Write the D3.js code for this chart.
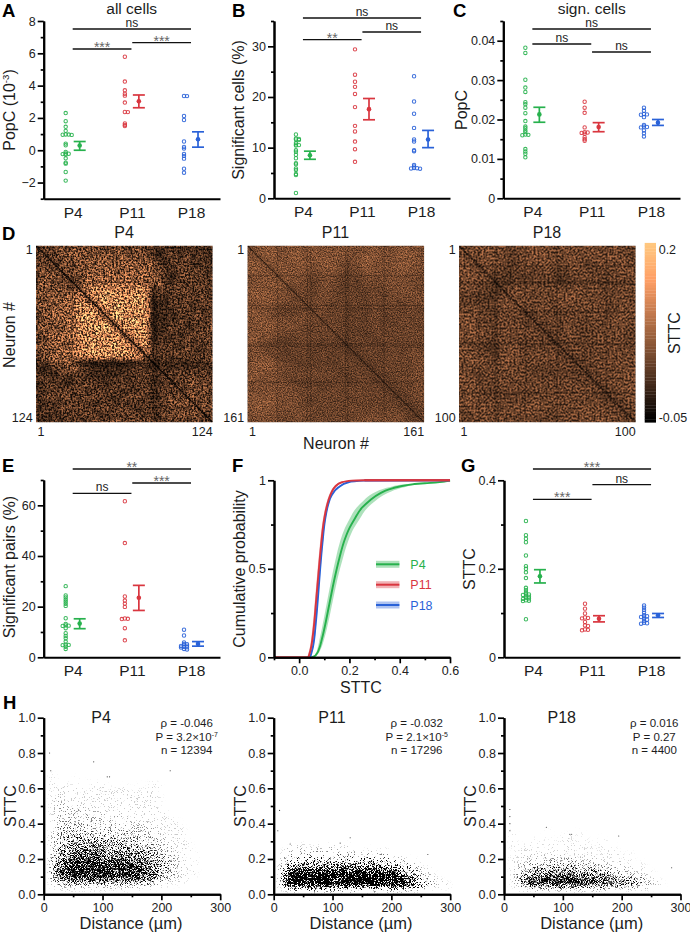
<!DOCTYPE html>
<html><head><meta charset="utf-8">
<script src="https://cdn.jsdelivr.net/npm/d3@7/dist/d3.min.js"></script>
<style>
html,body{margin:0;padding:0;background:#fff}
svg{display:block}
text{font-family:"Liberation Sans",Arial,sans-serif;fill:#1c1c1c}
</style></head><body><svg id="c" width="690" height="933" viewBox="0 0 690 933"></svg>
<script>
// ---------- data ----------
const categories = ["P4","P11","P18"];
const colors = ["#27b14d","#d9363f","#2a62d8"];

const popcP4  = [2.3,1.8,1.45,1.2,0.98,0.97,0.96,0.95,0.41,0.31,-0.1,-0.2,-0.22,-0.24,-0.26,-0.5,-0.77,-0.83,-1.35,-1.88];
const popcP11 = [5.79,4.25,3.71,3.5,3.38,2.95,2.37,2.36,1.66,1.56,1.5];
const popcP18 = [3.36,3.35,2.12,1.87,0.54,0.2,0.1,-0.23,-0.35,-0.52,-1.14,-1.39];
const popcSummary = [[0.29,0.54,0.0],[3.03,3.42,2.63],[0.68,1.14,0.19]];

const sigCellsP4  = [12.6,11.8,11.7,11.6,11.5,10.9,10.6,10.5,10.4,9.5,9.2,8.6,7.9,6.9,6.7,5.9,5.6,4.8,4.6,1.05];
const sigCellsP11 = [29.4,24.4,23,22,20.6,18,14.3,13.2,11.2,9.7,7.2];
const sigCellsP18 = [24.1,19.1,16.7,13.9,11.6,11.2,9.5,9.3,6.6,6.3,6.0,5.95,5.9,5.85];
const sigCellsSummary = [[8.5,9.3,7.7],[17.6,19.7,15.5],[11.6,13.4,10]];

const signPopcP4  = [.0382,.0369,.0301,.0281,.027,.0244,.0239,.023,.0216,.0196,.0182,.0178,.0172,.0168,.0162,.0161,.016,.0125,.0119,.0113,.0104];
const signPopcP11 = [.0245,.023,.0217,.018,.0168,.0167,.0166,.0164,.0155,.015,.0146];
const signPopcP18 = [.023,.0222,.0214,.0213,.0212,.0206,.0186,.0182,.0181,.018,.0172,.0165,.0157];
const signPopcSummary = [[.0213,.0231,.0193],[.0181,.0192,.0169],[.0192,.02,.0185]];

const sigPairsP4  = [28.1,24.4,23.6,22.7,21.9,21.1,20.3,15.4,13.2,12.6,12.5,12.4,11.5,9.5,8.4,7.5,6.2,5,4.9,4.8,4.2,3.3];
const sigPairsP11 = [61.6,45.1,24,22.4,21.2,19.9,15.3,15.2,15.1,11.5,6.7];
const sigPairsP18 = [10.9,8.6,5.9,5.3,5.2,4.7,4.6,4.5,4.1,4,3.9,3.3,3.1];
const sigPairsSummary = [[13.3,15.2,11.3],[23.5,28.4,18.5],[5.3,6.2,4.4]];

const sttcP4  = [.308,.276,.268,.26,.23,.206,.2,.192,.179,.157,.152,.147,.143,.142,.141,.138,.137,.134,.133,.132,.129,.128,.127,.086];
const sttcP11 = [.121,.11,.099,.09,.089,.088,.08,.072,.071,.063,.062,.061];
const sttcP18 = [.117,.112,.107,.101,.095,.093,.092,.091,.087,.085,.082,.078,.077,.076];
const sttcSummary = [[.183,.198,.168],[.087,.094,.08],[.095,.099,.09]];

// cumulative curves
const cdfP4X  = [.05,.06,.07,.08,.09,.10,.12,.14,.16,.18,.20,.22,.25,.28,.32,.36,.40,.45,.50,.55,.60];
const cdfP4Y  = [0,.005,.02,.05,.10,.16,.30,.44,.56,.66,.73,.78,.845,.885,.925,.95,.965,.977,.983,.988,.998];
const cdfP4Band = [.001,.003,.005,.007,.009,.01,.011,.012,.014,.016,.018,.02,.022,.024,.028,.03,.03,.03,.03,.02,.005];
const cdfP11X = [.037,.045,.057,.067,.077,.087,.097,.107,.117,.13,.143,.17,.21,.26,.60];
const cdfP11Y = [0,.04,.154,.31,.475,.63,.757,.835,.889,.935,.964,.989,.998,1,1];
const cdfP18X = [.044,.055,.066,.075,.083,.093,.103,.115,.13,.156,.196,.26,.60];
const cdfP18Y = [0,.06,.19,.34,.49,.65,.776,.86,.917,.96,.989,.998,1];
const cdfTickMajor = [0,.2,.4,.6];
const cdfTickMinor = [-.1,.1,.3,.5];

// heatmaps: upper triangle, coarse blocks read by eye, digit = STTC level (0 -> -0.05, 10 -> 0.2)
const matrixP4 = ["3434535454543454354342332323232","343546453545454354431343242332","34354546455456454543234343332","3453545465545654654233433233","344545646545656544433343432","34356565656546564322443433","3456565656656456424334343",
"376878787678724343433433","37879878878723334343342","3789787898713234243343","388798788812233342334","37898878822323433423","3897887812232333433","387898713233423334","38878812243332434","3788722334234343","378713323343343","37823343243334","3724334343233","332433433434","22323223233","2323323332","343434343","34345344","3435443","344354","35343","3453","344","33","3"];
const matrixP11 = ["35544545445444544544","3544544544445444454","354454454345444544","35443443434444444","3443443334344443","343443433434444","34434343434344","3434333434343","343343433434","34333434343","3343343434","334334343","33434344","3343434","334344","33434","3344","334","33","3"];
const matrixP18 = ["34444334443443443433","3444334444344344443","344334344344334344","33233333233433343","3343434334343434","344343444343343","34343443434343","3343334343344","334343343443","33343334343","3343343433","334334343","33343434","3334343","334344","33434","3344","334","33","3"];
const neuronCounts = [124,161,100];
const selfSTTC = -0.05;
// neurons whose whole row and column read dark in the figure
const darkNeuronsP4  = [2,26,83,85,92,97];
const darkNeuronsP11 = [28,55,58,90,92,125];
const darkNeuronsP18 = [12,21,22,38,56,84];

// scatter density: rows from high STTC down, columns are 10 um bins, digit = relative density
const densityTopP4 = 0.70, densityTopP11 = 0.30, densityTopP18 = 0.38;
const densityP4 = ["000000000000000000000000000000","010000000000000000000000000000","010001000000000000000000000000","010100010100000000100000000000","011111101110010010110000000000","011111111111111101110000000000","011111111111111111100000000000","012111111111111111110000000000","012111111111111111110000000000","012211111111111111100000000000","012222211111111111110000000000","012222222111111111111000000000","012222222221211111111000000000","012222222222221111111100000000","013232222222222211111110000000","013333333222222222111110000000","013333333333322222211111000000","013333333333333322221111000000","023444444434333332221111000000","023444444444444333322111000000","023455555555444433322111100000","024556666655555544332211100000","024566676666665554332211100000","034667777766666655433221110000","034678888877777665543321110000","035788888888887776544321110000","036889999998888877654321110000","047899999999998887654321110000","047899999999999988754321110000","047899999999999988754321110000","036788888999888877653221100000","024566666666666655432111000000","012232222222222222211000000000","001111111111111100000000000000"];
const densityP11 = ["000000000000000000000000000000","001111010110100000000000000000","001111111111111010100000000000","011112121212111111110000000000","012222222222222222221100000000","012333333333333333322111000000","013444444444444444433221100000","024666666666666666655432110000","036888888888888888777543211000","038999999999999999988654211000","039999999999999999999865421100","039999999999999999999987532110","037888888888888888888876432111","001222222222222222222211100000"];
const densityP18 = ["000000000000000000000000000000","010000010000100000000000000000","010000000011010000000000000000","010001010111010010000000000000","010010111011101011000000000000","011111111111111011100000000000","001111111111111101100000000000","001111111111111111110100000000","011122222222111111111000000000","011222233333322211111100000000","012233344444333322221111000000","012344455555444433222111000000","013455666666555544332211100000","013466777777666655433322110000","014678899999887766554433110000","014899999999999988777665321000","013677777888877776665544321000","001122222222222222111111000000"];
const outliersP4  = [[85,.75],[10,.8],[215,.70],[108,.665],[112,.665],[12,.7]];
const outliersP11 = [[10,.475],[7,.36],[130,.32],[113,.29],[28,.285],[262,.225]];
const outliersP18 = [[10,.48],[10,.44],[72,.38],[112,.34],[115,.34],[195,.33],[10,.40],[10,.36],[285,.15]];

const statsLines = [
 [["ρ = -0.046"],["P = 3.2×10","-7"],["n = 12394"]],
 [["ρ = -0.032"],["P = 2.1×10","-5"],["n = 17296"]],
 [["ρ = 0.016"],["P = 0.27"],["n = 4400"]]
];

// ---------- helpers ----------
const svg = d3.select("#c");
const AXW = 2;
const copper = t => { t=Math.max(0,Math.min(1,t)); return d3.rgb(255*Math.min(1,1.25*t),255*0.7812*t,255*0.4975*t)+""; };
const sttcColor = d3.scaleSequential([-0.05,0.2], copper);

function txt(x,y,s,size,opt={}){
  const t = svg.append("text").attr("x",x).attr("y",y).attr("font-size",size).text(s)
    .attr("text-anchor",opt.anchor||"middle");
  if(opt.bold) t.attr("font-weight","bold");
  if(opt.fill) t.style("fill",opt.fill);
  if(opt.rot) t.attr("transform",`rotate(-90 ${x} ${y})`);
  if(opt.sup){ t.append("tspan").attr("dy",-size*0.36).attr("font-size",size*0.6).text(opt.sup);
    if(opt.tail) t.append("tspan").attr("dy",size*0.36).text(opt.tail); }
  return t;
}
function styleAxis(g){
  g.selectAll("path.domain").attr("stroke","#000").attr("stroke-width",AXW);
  g.selectAll(".tick line").attr("stroke","#000").attr("stroke-width",AXW-0.3);
  g.selectAll(".tick text").attr("font-size",12.5).attr("font-family",'"Liberation Sans"').style("fill","#222");
  return g;
}
function yAxis(x,scale,major,minor,fmt){
  svg.append("g").attr("transform",`translate(${x},0)`)
    .call(d3.axisLeft(scale).tickValues(minor).tickSize(3).tickSizeOuter(0).tickFormat(""))
    .call(styleAxis);
  svg.append("g").attr("transform",`translate(${x},0)`)
    .call(d3.axisLeft(scale).tickValues(major).tickSize(6).tickSizeOuter(0).tickPadding(2).tickFormat(fmt))
    .call(styleAxis);
}
function xValueAxis(y,scale,major,minor,fmt){
  svg.append("g").attr("transform",`translate(0,${y})`)
    .call(d3.axisBottom(scale).tickValues(minor).tickSize(3).tickSizeOuter(0).tickFormat(""))
    .call(styleAxis);
  const g = svg.append("g").attr("transform",`translate(0,${y})`)
    .call(d3.axisBottom(scale).tickValues(major).tickSize(6).tickSizeOuter(0).tickPadding(3).tickFormat(fmt))
    .call(styleAxis);
  return g;
}
function swarm(values,y,s=3.0){
  const placed=[];
  [...values].sort((a,b)=>b-a).forEach(v=>{
    const py=y(v); let off=0;
    for(const c of [0,1,-1,2,-2,3,-3]){
      off=c*s;
      if(!placed.some(p=>Math.abs(p.off-off)<s*.9 && Math.abs(p.py-py)<0.9)) break;
    }
    placed.push({v,py,off});
  });
  return placed;
}
function dotPanel(cfg){
  const y = d3.scaleLinear().domain(cfg.domain).range(cfg.yRange);
  const x = d3.scalePoint().domain(categories).range(cfg.xRange).padding(0.49);
  yAxis(cfg.xRange[0],y,cfg.major,cfg.minor,cfg.fmt);
  const gx = svg.append("g").attr("transform",`translate(0,${cfg.yRange[0]})`)
    .call(d3.axisBottom(x).tickSize(0).tickPadding(8).tickSizeOuter(0));
  gx.select("path.domain").attr("stroke","#000").attr("stroke-width",AXW);
  gx.selectAll(".tick text").attr("font-size",15.5).attr("font-family",'"Liberation Sans"').style("fill","#1c1c1c");
  categories.forEach((c,i)=>{
    const col = colors[i], cx = x(c)-cfg.off, mx = x(c)+cfg.off;
    svg.append("g").selectAll("circle").data(swarm(cfg.dots[i],y)).join("circle")
      .attr("cx",d=>cx+d.off).attr("cy",d=>d.py).attr("r",1.7)
      .attr("fill","none").attr("stroke",col).attr("stroke-width",1.05).attr("stroke-opacity",.9);
    const [m,hi,lo] = cfg.summary[i];
    const g = svg.append("g").attr("stroke",col).attr("stroke-width",1.7);
    g.append("line").attr("x1",mx).attr("x2",mx).attr("y1",y(hi)).attr("y2",y(lo));
    g.append("line").attr("x1",mx-6).attr("x2",mx+6).attr("y1",y(hi)).attr("y2",y(hi));
    g.append("line").attr("x1",mx-6).attr("x2",mx+6).attr("y1",y(lo)).attr("y2",y(lo));
    svg.append("circle").attr("cx",mx).attr("cy",y(m)).attr("r",2.3).attr("fill",col);
  });
  cfg.sig.forEach(([a,b,py,label])=>{
    const p=k=>x(categories[k]);
    const x1 = a===1 ? p(1)+0.4 : p(a), x2 = b===1 ? p(1)-0.4 : p(b);
    svg.append("line").attr("x1",x1).attr("x2",x2).attr("y1",py).attr("y2",py)
      .attr("stroke","#111").attr("stroke-width",1.3);
    const mid=(x1+x2)/2;
    if(label==="ns") txt(mid,py-2,label,12);
    else txt(mid,py+3,label,14,{fill:"#666"});
  });
}
// ---------- filters (pixel texture only; the marks below come from the tables) ----------
const defs = svg.append("defs");
function speckle(id,box,blur,freq,seed,gain,k1,k2){
  const f = defs.append("filter").attr("id",id).attr("filterUnits","userSpaceOnUse")
    .attr("x",box[0]).attr("y",box[1]).attr("width",box[2]).attr("height",box[3])
    .attr("color-interpolation-filters","sRGB");
  f.append("feGaussianBlur").attr("in","SourceGraphic").attr("stdDeviation",blur).attr("result","s");
  f.append("feTurbulence").attr("type","fractalNoise").attr("baseFrequency",freq).attr("numOctaves",2).attr("seed",seed).attr("result","n");
  const off=(0.5-gain*0.5).toFixed(3);
  f.append("feColorMatrix").attr("in","n").attr("type","matrix")
    .attr("values",`${gain} 0 0 0 ${off}  ${gain} 0 0 0 ${off}  ${gain} 0 0 0 ${off}  0 0 0 0 1`).attr("result","m");
  f.append("feComposite").attr("in","s").attr("in2","m").attr("operator","arithmetic")
    .attr("k1",k1).attr("k2",k2).attr("k3",0).attr("k4",0);
}
function stipple(id,seed,slope){
  const f = defs.append("filter").attr("id",id).attr("filterUnits","userSpaceOnUse")
    .attr("x",0).attr("y",690).attr("width",690).attr("height",243).attr("color-interpolation-filters","sRGB");
  f.append("feGaussianBlur").attr("in","SourceAlpha").attr("stdDeviation",2.4).attr("result","b");
  f.append("feTurbulence").attr("type","fractalNoise").attr("baseFrequency",1.3).attr("numOctaves",1).attr("seed",seed).attr("result","n");
  f.append("feColorMatrix").attr("in","n").attr("type","matrix")
    .attr("values","0 0 0 0 0  0 0 0 0 0  0 0 0 0 0  3.0 0 0 0 -1.0").attr("result","m");
  f.append("feComposite").attr("in","b").attr("in2","m").attr("operator","arithmetic")
    .attr("k1",0).attr("k2",1).attr("k3",1).attr("k4",-1).attr("result","c");
  const t=f.append("feComponentTransfer").attr("in","c");
  t.append("feFuncA").attr("type","linear").attr("slope",slope).attr("intercept",0);
}
stipple("st4",5,2.5); stipple("st11",9,4.5); stipple("st18",13,2.2);

// ---------- panel letters ----------
[["A",2,16.5],["B",232,16.5],["C",453,16.5],["D",2,240],["E",2,472],["F",232,472],["G",461,472],["H",3,709]]
  .forEach(([s,x,y])=>txt(x,y,s,18.5,{bold:true,anchor:"start"}).style("fill","#000"));

// ---------- A B C ----------
dotPanel({domain:[-3,8],yRange:[198.7,21],xRange:[43.7,220],off:7,major:[-2,0,2,4,6,8],minor:[-3,-1,1,3,5,7],fmt:d3.format("d"),
  dots:[popcP4,popcP11,popcP18],summary:popcSummary,sig:[[0,2,29,"ns"],[0,1,49,"***"],[1,2,42.7,"***"]]});
txt(131.7,14,"all cells",15.5);
txt(15,110,"PopC (10",16,{rot:true,sup:"-3",tail:")"});

dotPanel({domain:[0,35],yRange:[198.3,21],xRange:[274,450],off:7,major:[0,10,20,30],minor:[5,15,25,35],fmt:d3.format("d"),
  dots:[sigCellsP4,sigCellsP11,sigCellsP18],summary:sigCellsSummary,sig:[[0,2,18,"ns"],[0,1,39.7,"**"],[1,2,32,"ns"]]});
txt(244,110,"Significant cells (%)",16,{rot:true});

dotPanel({domain:[0,.045],yRange:[198.3,21],xRange:[503.3,680],off:7,major:[0,.01,.02,.03,.04],minor:[.005,.015,.025,.035,.045],fmt:d=>d===0?"0":d3.format(".2f")(d),
  dots:[signPopcP4,signPopcP11,signPopcP18],summary:signPopcSummary,sig:[[0,2,29,"ns"],[0,1,44,"ns"],[1,2,52,"ns"]]});
txt(591.7,14,"sign. cells",15.5);
txt(466.7,110,"PopC",16,{rot:true});

// ---------- D heatmaps ----------
const level = d3.scaleLinear().domain([0,10]).range([-0.05,0.2]);
const heatStyle = [
  {blur:2.2,freq:0.55,seed:3,gain:2.8,k1:1.25,k2:0.2,back:4},
  {blur:5,freq:0.8,seed:7,gain:2.2,k1:0.85,k2:0.5,back:3.6},
  {blur:5,freq:0.5,seed:11,gain:2.6,k1:1.05,k2:0.4,back:3.5}
];
const darkNeurons=[darkNeuronsP4,darkNeuronsP11,darkNeuronsP18];
[[matrixP4,36],[matrixP11,247.5],[matrixP18,459]].forEach(([rows,x0],k)=>{
  const size=176.6, N=neuronCounts[k], n=rows.length, name=categories[k], st=heatStyle[k], y0=245.7;
  const bx=d3.scaleBand().domain(d3.range(n)).range([x0,x0+size]);
  const by=d3.scaleBand().domain(d3.range(n)).range([y0,y0+size]);
  const cells=[];
  for(let i=0;i<n;i++)for(let j=0;j<n;j++){
    const a=Math.min(i,j),b=Math.max(i,j),ch=rows[a][b-a];
    cells.push({i,j,v:level(ch===undefined?3:+ch)});
  }
  const pad=15, fid="spk"+k, cid="clip"+k;
  speckle(fid,[x0-pad,y0-pad,size+2*pad,size+2*pad],st.blur,st.freq,st.seed,st.gain,st.k1,st.k2);
  defs.append("clipPath").attr("id",cid).append("rect").attr("x",x0).attr("y",y0).attr("width",size).attr("height",size);
  const outer=svg.append("g").attr("clip-path",`url(#${cid})`);
  const g=outer.append("g").attr("filter",`url(#${fid})`);
  g.append("rect").attr("x",x0-pad).attr("y",y0-pad).attr("width",size+2*pad).attr("height",size+2*pad).attr("fill",sttcColor(level(st.back)));
  g.append("g").selectAll("rect").data(cells).join("rect")
    .attr("x",d=>bx(d.j)).attr("y",d=>by(d.i)).attr("width",bx.bandwidth()+.3).attr("height",by.bandwidth()+.3)
    .attr("fill",d=>sttcColor(d.v));
  const nx=d3.scaleBand().domain(d3.range(1,N+1)).range([x0,x0+size]);
  const ny=d3.scaleBand().domain(d3.range(1,N+1)).range([y0,y0+size]);
  outer.append("g").selectAll("rect").data(darkNeurons[k]).join("rect")
    .attr("x",d=>nx(d)).attr("y",y0).attr("width",nx.bandwidth()).attr("height",size).attr("fill","#000").attr("fill-opacity",.2);
  outer.append("g").selectAll("rect").data(darkNeurons[k]).join("rect")
    .attr("y",d=>ny(d)).attr("x",x0).attr("height",ny.bandwidth()).attr("width",size).attr("fill","#000").attr("fill-opacity",.2);
  outer.append("g").selectAll("rect").data(d3.range(1,N+1)).join("rect")
    .attr("x",d=>nx(d)).attr("y",d=>ny(d)).attr("width",nx.bandwidth()+.2).attr("height",ny.bandwidth()+.2)
    .attr("fill",sttcColor(selfSTTC)).attr("fill-opacity",k===0?.9:.55);
  txt(x0+size/2-.3,238,name,16);
  txt(x0-3.4,254,"1",12.5,{anchor:"end"});
  txt(x0-3.4,422,N,12.5,{anchor:"end"});
  txt(x0+1.5,436,"1",12.5,{anchor:"start"});
  txt(x0+size,436,N,12.5,{anchor:"end"});
});
txt(15,335,"Neuron #",16,{rot:true});
txt(336,449,"Neuron #",16);
const cbar=d3.scaleLinear().domain([-0.05,0.2]).range([422.3,245.7]);
const cbarSteps=d3.range(64).map(i=>-0.05+i*0.25/63);
svg.append("g").selectAll("rect").data(cbarSteps).join("rect")
  .attr("x",644.7).attr("width",11.3).attr("y",d=>cbar(d)-2.8).attr("height",3.1).attr("fill",d=>sttcColor(d));
txt(658.7,254,"0.2",12.5,{anchor:"start"});
txt(658.7,422,"-0.05",12.5,{anchor:"start"});
txt(680,333,"STTC",16,{rot:true});

// ---------- E ----------
dotPanel({domain:[0,70],yRange:[657.3,480],xRange:[43.7,220],off:7,major:[0,20,40,60],minor:[10,30,50,70],fmt:d3.format("d"),
  dots:[sigPairsP4,sigPairsP11,sigPairsP18],summary:sigPairsSummary,sig:[[0,2,469,"**"],[0,1,493.3,"ns"],[1,2,483,"***"]]});
txt(15,567,"Significant pairs (%)",16,{rot:true});

// ---------- F ----------
const fx=d3.scaleLinear().domain([-.1,.6]).range([274,450]);
const fy=d3.scaleLinear().domain([0,1]).range([657.3,480.3]);
const lineF=d3.line().x(d=>fx(d[0])).y(d=>fy(d[1])).curve(d3.curveMonotoneY);
const curves=[
 {x:cdfP4X,y:cdfP4Y,band:cdfP4Band},
 {x:cdfP11X,y:cdfP11Y,band:cdfP11X.map(()=>.005)},
 {x:cdfP18X,y:cdfP18Y,band:cdfP18X.map(()=>.002)}
];
curves.forEach((c,i)=>{
  const pts=c.x.map((v,k)=>[v,c.y[k],c.band[k]]);
  svg.append("path").datum(pts).attr("fill",colors[i]).attr("fill-opacity",.38)
    .attr("d",d3.area().y(d=>fy(d[1])).x0(d=>fx(d[0]-d[2])).x1(d=>fx(d[0]+d[2])).curve(d3.curveMonotoneY));
});
svg.append("line").attr("x1",fx(-.1)).attr("x2",fx(.05)).attr("y1",fy(0)).attr("y2",fy(0)).attr("stroke",colors[1]).attr("stroke-width",2);
[0,2,1].forEach(i=>{
  const c=curves[i], pts=c.x.map((v,k)=>[v,c.y[k]]);
  svg.append("path").datum(pts).attr("fill","none").attr("stroke",colors[i]).attr("stroke-width",1.9).attr("d",lineF);
  if(i>0) svg.append("line").attr("x1",fx(c.x[c.x.length-2])).attr("x2",fx(.6)).attr("y1",fy(1)).attr("y2",fy(1)).attr("stroke",colors[i]).attr("stroke-width",1.9);
});
yAxis(274,fy,[0,.5,1],[.25,.75],d=>d===0?"0":d===1?"1":"0.5");
xValueAxis(657.3,fx,cdfTickMajor,cdfTickMinor,d3.format(".1f"));
txt(245,569,"Cumulative probability",16,{rot:true});
txt(361,693,"STTC",16);
categories.forEach((c,i)=>{
  const y=[564.3,584.7,605][i];
  svg.append("rect").attr("x",376).attr("width",23.4).attr("y",y-3.5).attr("height",7).attr("fill",colors[i]).attr("fill-opacity",.38);
  svg.append("line").attr("x1",376).attr("x2",399.4).attr("y1",y).attr("y2",y).attr("stroke",colors[i]).attr("stroke-width",2);
  txt(410.3,y+4.6,c,12.5,{anchor:"start",fill:colors[i]});
});

// ---------- G ----------
dotPanel({domain:[0,.4],yRange:[657.3,480.3],xRange:[504,680],off:7,major:[0,.2,.4],minor:[.1,.3],fmt:d=>d===0?"0":d3.format(".1f")(d),
  dots:[sttcP4,sttcP11,sttcP18],summary:sttcSummary,sig:[[0,2,469,"***"],[0,1,499.3,"***"],[1,2,484.7,"ns"]]});
txt(475,569,"STTC",16,{rot:true});

// ---------- H ----------
[[densityP4,densityTopP4,outliersP4,43.7,"st4"],[densityP11,densityTopP11,outliersP11,273.7,"st11"],[densityP18,densityTopP18,outliersP18,504,"st18"]]
.forEach(([rows,top,outs,x0,fid],k)=>{
  const x=d3.scaleLinear().domain([0,300]).range([x0,x0+176.5]);
  const y=d3.scaleLinear().domain([0,1]).range([894.3,717.7]);
  const dens=d3.scalePow().exponent(1.15).domain([0,9]).range([0,1]);
  const cells=[];
  rows.forEach((r,ri)=>[...r].forEach((ch,ci)=>{ if(+ch>0) cells.push({d0:ci*10,s:top-ri*0.02,v:+ch}); }));
  svg.append("g").attr("filter",`url(#${fid})`).selectAll("rect").data(cells).join("rect")
    .attr("x",d=>x(d.d0)).attr("y",d=>y(d.s)).attr("width",x(10)-x(0)+.2).attr("height",y(0)-y(0.02)+.2)
    .attr("fill","#000").attr("fill-opacity",d=>dens(d.v));
  svg.append("g").selectAll("circle").data(outs).join("circle")
    .attr("cx",d=>x(d[0])).attr("cy",d=>y(d[1])).attr("r",.55).attr("fill","#333");
  yAxis(x0,y,[0,.2,.4,.6,.8,1],[.1,.3,.5,.7,.9],d3.format(".1f"));
  xValueAxis(894.3,x,[0,100,200,300],[50,150,250],d3.format("d"));
  const tx=[101,332,561.7][k], sx=[186.7,416.7,654.3][k], xl=[131,361,591.7][k], yl=[16,246,475.7][k];
  txt(tx,723,categories[k],16);
  [726.7,740.7,754].forEach((py,l)=>{
    const [a,sup]=statsLines[k][l];
    txt(sx,py,a,11.5,sup?{sup}:{});
  });
  txt(xl,929,"Distance (µm)",16.5);
  txt(yl,806,"STTC",16,{rot:true});
});
</script></body></html>
